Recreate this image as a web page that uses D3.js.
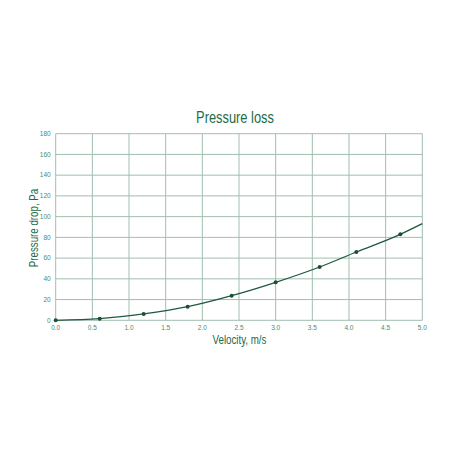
<!DOCTYPE html>
<html>
<head>
<meta charset="utf-8">
<script src="https://cdn.jsdelivr.net/npm/d3@7"></script>
<style>
  body { margin: 0; background: #fff; }
  text { font-family: "Liberation Sans Narrow", "Liberation Sans", Arial, sans-serif; }
</style>
</head>
<body>
<div id="chart"></div>
<script>
var velocity = [0, 0.6, 1.2, 1.8, 2.4, 3.0, 3.6, 4.1, 4.7];
var pressureDrop = [0, 1.6, 6.1, 13.1, 23.7, 36.6, 51.4, 65.9, 82.9];
// the curve keeps going to the edge with no marker
var curveEnd = [5.0, 93.2];
var xTicks = [0, 0.5, 1, 1.5, 2, 2.5, 3, 3.5, 4, 4.5, 5];
var yTicks = [0, 20, 40, 60, 80, 100, 120, 140, 160, 180];

var green = "#1d6b47";
var gridColor = "#a0beb0";
var narrow = 0.78; // no narrow font installed, squeeze the labels instead

var svg = d3.select("#chart")
    .append("svg")
    .attr("width", 470)
    .attr("height", 470);

var x = d3.scaleLinear().domain([0, 5]).range([55.7, 422.3]);
var y = d3.scaleLinear().domain([0, 180]).range([320.3, 133.7]);

// grid
svg.selectAll(".vgrid")
    .data(xTicks)
    .enter()
    .append("line")
    .attr("class", "vgrid")
    .attr("x1", function(d) { return x(d); })
    .attr("x2", function(d) { return x(d); })
    .attr("y1", y(0))
    .attr("y2", y(180))
    .attr("stroke", gridColor)
    .attr("stroke-width", 1);

svg.selectAll(".hgrid")
    .data(yTicks)
    .enter()
    .append("line")
    .attr("class", "hgrid")
    .attr("x1", x(0))
    .attr("x2", x(5))
    .attr("y1", function(d) { return y(d); })
    .attr("y2", function(d) { return y(d); })
    .attr("stroke", gridColor)
    .attr("stroke-width", 1);

// tick labels
svg.selectAll(".xlab")
    .data(xTicks)
    .enter()
    .append("text")
    .attr("x", function(d) { return x(d); })
    .attr("y", y(0) + 10)
    .attr("text-anchor", "middle")
    .attr("font-size", "6.5px")
    .attr("fill", "#4e8a6c")
    .text(function(d) { return d3.format(".1f")(d); });

svg.selectAll(".ylab")
    .data(yTicks)
    .enter()
    .append("text")
    .attr("x", x(0) - 5)
    .attr("y", function(d) { return y(d) + 2.2; })
    .attr("text-anchor", "end")
    .attr("font-size", "6.5px")
    .attr("fill", "#4e8a6c")
    .text(function(d) { return d; });

// curve
var pts = velocity.map(function(v, i) { return [v, pressureDrop[i]]; });
var linePts = pts.concat([curveEnd]);

var line = d3.line()
    .x(function(d) { return x(d[0]); })
    .y(function(d) { return y(d[1]); })
    .curve(d3.curveMonotoneX);

svg.append("path")
    .datum(linePts)
    .attr("d", line)
    .attr("fill", "none")
    .attr("stroke", "#1e5a3e")
    .attr("stroke-width", 1.3);

svg.selectAll(".pt")
    .data(pts)
    .enter()
    .append("circle")
    .attr("class", "pt")
    .attr("cx", function(d) { return x(d[0]); })
    .attr("cy", function(d) { return y(d[1]); })
    .attr("r", 2)
    .attr("fill", "#1e4d36");

// titles
svg.append("text")
    .attr("transform", "translate(235,123) scale(" + narrow + ",1)")
    .attr("text-anchor", "middle")
    .attr("font-size", "16.5px")
    .attr("fill", green)
    .text("Pressure loss");

svg.append("text")
    .attr("transform", "translate(239.5,344) scale(" + narrow + ",1)")
    .attr("text-anchor", "middle")
    .attr("font-size", "12.5px")
    .attr("fill", green)
    .text("Velocity, m/s");

svg.append("text")
    .attr("transform", "translate(37.5,228) rotate(-90) scale(" + narrow + ",1)")
    .attr("text-anchor", "middle")
    .attr("font-size", "12.5px")
    .attr("fill", green)
    .text("Pressure drop, Pa");
</script>
</body>
</html>
